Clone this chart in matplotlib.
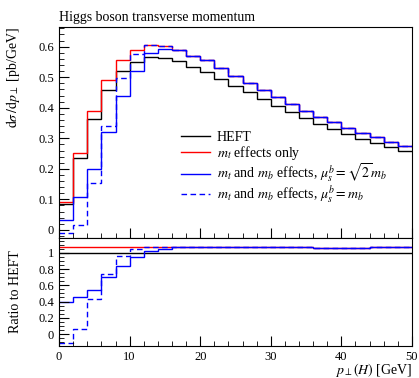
import numpy as np
import matplotlib
matplotlib.use("Agg")
import matplotlib.pyplot as plt
from matplotlib.ticker import MultipleLocator

plt.rcParams['font.family'] = ['Liberation Serif', 'DejaVu Serif']
plt.rcParams['mathtext.fontset'] = 'stix'
plt.rcParams['font.size'] = 10

# bin edges in pT (GeV), 2 GeV bins
edges = np.arange(0, 52, 2)

# dsigma/dpT [pb/GeV]
heft = [0.084, 0.237, 0.364, 0.458, 0.519, 0.550, 0.565, 0.563, 0.552, 0.535,
        0.517, 0.495, 0.472, 0.450, 0.428, 0.407, 0.385, 0.366, 0.348, 0.331,
        0.315, 0.298, 0.284, 0.270, 0.257]
mt_only = [0.090, 0.253, 0.390, 0.492, 0.557, 0.590, 0.604, 0.602, 0.588, 0.570,
           0.555, 0.530, 0.505, 0.481, 0.459, 0.434, 0.413, 0.391, 0.370, 0.352,
           0.333, 0.317, 0.303, 0.289, 0.274]
mtmb_sqrt2 = [0.033, 0.107, 0.198, 0.320, 0.437, 0.519, 0.579, 0.592, 0.588, 0.570,
              0.555, 0.530, 0.505, 0.481, 0.459, 0.434, 0.413, 0.391, 0.370, 0.352,
              0.333, 0.317, 0.303, 0.289, 0.274]
mtmb_mb = [-0.009, 0.016, 0.155, 0.341, 0.497, 0.576, 0.605, 0.603, 0.588, 0.570,
           0.555, 0.530, 0.505, 0.481, 0.459, 0.434, 0.413, 0.391, 0.370, 0.352,
           0.333, 0.317, 0.303, 0.289, 0.274]


def step(ax, vals, **kw):
    v = np.asarray(vals)
    ax.stairs(v, edges, baseline=None, **kw)


fig = plt.figure(figsize=(4.19, 3.78), dpi=100)
ax = fig.add_axes([0.141, 0.370, 0.842, 0.559])
axr = fig.add_axes([0.141, 0.085, 0.842, 0.285], sharex=ax)

series = [
    (heft, dict(color='black', lw=1.0), 'HEFT'),
    (mt_only, dict(color='red', lw=1.0), r'$m_t$ effects only'),
    (mtmb_sqrt2, dict(color='blue', lw=1.0), r'$m_t$ and $m_b$ effects, $\mu_s^b=\sqrt{2}m_b$'),
    (mtmb_mb, dict(color='blue', lw=1.0, ls=(0, (4, 2.5))), r'$m_t$ and $m_b$ effects, $\mu_s^b=m_b$'),
]

for vals, kw, lab in series:
    step(ax, vals, label=lab, **kw)
    step(axr, np.asarray(vals) / np.asarray(heft), **kw)

ax.set_xlim(0, 50)
ax.set_ylim(-0.027, 0.665)
axr.set_ylim(-0.145, 1.18)

ax.yaxis.set_major_locator(MultipleLocator(0.1))
ax.yaxis.set_minor_locator(MultipleLocator(0.02))
ax.xaxis.set_major_locator(MultipleLocator(10))
ax.xaxis.set_minor_locator(MultipleLocator(2))
axr.yaxis.set_major_locator(MultipleLocator(0.2))
axr.yaxis.set_minor_locator(MultipleLocator(0.05))

ax.set_yticks([0, 0.1, 0.2, 0.3, 0.4, 0.5, 0.6])
ax.set_yticklabels(['0', '0.1', '0.2', '0.3', '0.4', '0.5', '0.6'])
axr.set_yticks([0, 0.2, 0.4, 0.6, 0.8, 1.0])
axr.set_yticklabels(['0', '0.2', '0.4', '0.6', '0.8', '1'])

for a in (ax, axr):
    a.tick_params(which='both', direction='in', top=False, right=False, labelsize=9)
    a.tick_params(which='major', length=7, width=0.8)
    a.tick_params(which='minor', length=3.5, width=0.6)
plt.setp(ax.get_xticklabels(), visible=False)

ax.set_ylabel(r'$\mathrm{d}\sigma\,/\mathrm{d}p_\perp$ [pb/GeV]', fontsize=10)
axr.set_ylabel('Ratio to HEFT', fontsize=10)
ax.yaxis.set_label_coords(-0.105, 0.76)
axr.yaxis.set_label_coords(-0.105, 0.5)
axr.set_xlabel(r'$p_\perp(H)$ [GeV]', fontsize=10, loc='right')
axr.xaxis.set_label_coords(1.0, -0.145)

fig.text(0.141, 0.955, 'Higgs boson transverse momentum', fontsize=10, va='center', ha='left')

ax.legend(loc='upper left', bbox_to_anchor=(0.345, 0.506), frameon=False, fontsize=10,
          handlelength=2.1, handletextpad=0.5, labelspacing=0.0, borderaxespad=0,
          borderpad=0)

fig.savefig('out.png', dpi=100)
